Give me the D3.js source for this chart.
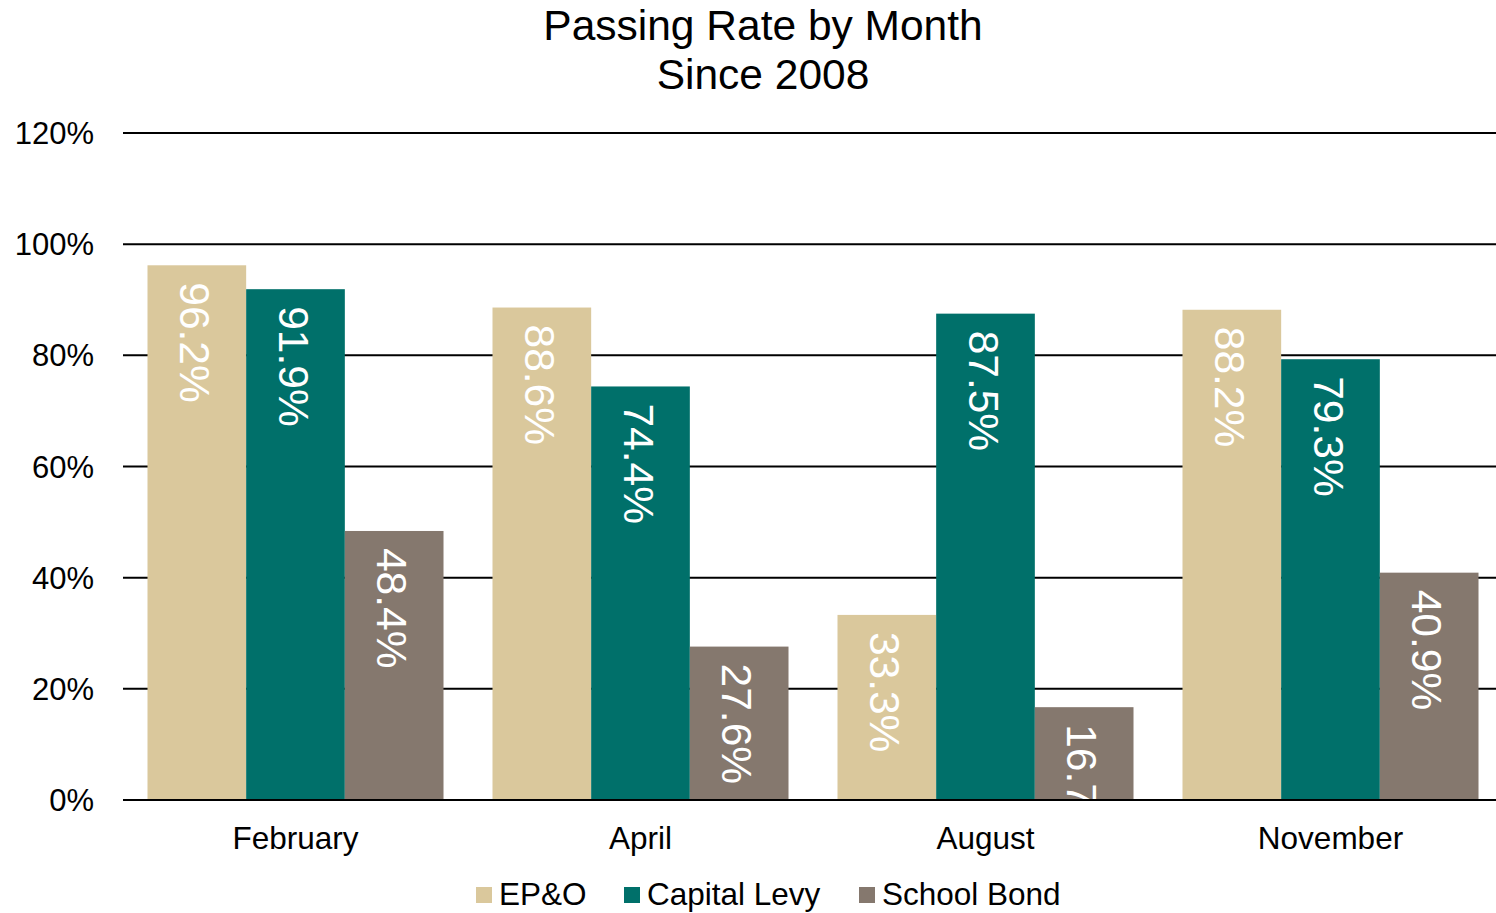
<!DOCTYPE html>
<html>
<head>
<meta charset="utf-8">
<script src="https://cdn.jsdelivr.net/npm/d3@7"></script>
<style>
  body { margin: 0; background: #fff; }
  svg { display: block; font-family: "Liberation Sans", Arial, sans-serif; }
</style>
</head>
<body>
<svg id="chart" width="1496" height="913"></svg>
<script>
const months = ["February", "April", "August", "November"];
const series = ["EP&O", "Capital Levy", "School Bond"];
const epo = [96.2, 88.6, 33.3, 88.2];
const capitalLevy = [91.9, 74.4, 87.5, 79.3];
const schoolBond = [48.4, 27.6, 16.7, 40.9];
const yTicks = [0, 20, 40, 60, 80, 100, 120];
const colors = ["#dac89c", "#00706a", "#85786e"];

const values = [epo, capitalLevy, schoolBond];
const svg = d3.select("#chart");

const x = d3.scaleBand().domain(months).range([123, 1503]).paddingInner(0.142).paddingOuter(0.071);
const xs = d3.scaleBand().domain(series).range([0, x.bandwidth()]);
const y = d3.scaleLinear().domain([0, 120]).range([800, 133]);

// title
svg.append("text").attr("x", 763).attr("y", 40).attr("text-anchor", "middle")
  .attr("font-size", 42.5).text("Passing Rate by Month");
svg.append("text").attr("x", 763).attr("y", 89).attr("text-anchor", "middle")
  .attr("font-size", 42.5).text("Since 2008");

// gridlines
svg.append("g").selectAll("line").data(yTicks).enter().append("line")
  .attr("x1", 123).attr("x2", 1496)
  .attr("y1", d => y(d)).attr("y2", d => y(d))
  .attr("stroke", "#000").attr("stroke-width", 2);

svg.append("g").selectAll("text").data(yTicks).enter().append("text")
  .attr("x", 94).attr("y", d => y(d) + 11)
  .attr("text-anchor", "end").attr("font-size", 31)
  .text(d => d + "%");

svg.append("defs").append("clipPath").attr("id", "plot")
  .append("rect").attr("x", 123).attr("y", 100).attr("width", 1400).attr("height", 700);

const groups = svg.append("g").attr("clip-path", "url(#plot)")
  .selectAll("g").data(months).enter().append("g")
  .attr("transform", d => `translate(${x(d)},0)`);

series.forEach((s, si) => {
  groups.append("rect")
    .attr("x", xs(s))
    .attr("y", (d, i) => y(values[si][i]))
    .attr("width", xs.bandwidth())
    .attr("height", (d, i) => y(0) - y(values[si][i]))
    .attr("fill", colors[si]);
  groups.append("text")
    .attr("transform", (d, i) => `translate(${xs(s) + xs.bandwidth() / 2 - 17},${y(values[si][i]) + 17}) rotate(90)`)
    .attr("fill", "#fff").attr("font-size", 42.5)
    .text((d, i) => values[si][i].toFixed(1) + "%");
});

// axis line on top
svg.append("line").attr("x1", 123).attr("x2", 1496).attr("y1", y(0)).attr("y2", y(0))
  .attr("stroke", "#000").attr("stroke-width", 2);

svg.append("g").selectAll("text").data(months).enter().append("text")
  .attr("x", d => x(d) + x.bandwidth() / 2).attr("y", 849)
  .attr("text-anchor", "middle").attr("font-size", 31.5)
  .text(d => d);

// legend
const legendX = [476, 624, 859];
const legend = svg.append("g").selectAll("g").data(series).enter().append("g")
  .attr("transform", (d, i) => `translate(${legendX[i]},0)`);
legend.append("rect").attr("x", 0).attr("y", 887).attr("width", 16).attr("height", 16)
  .attr("fill", (d, i) => colors[i]);
legend.append("text").attr("x", 23).attr("y", 905).attr("font-size", 31.5).text(d => d);
</script>
</body>
</html>
